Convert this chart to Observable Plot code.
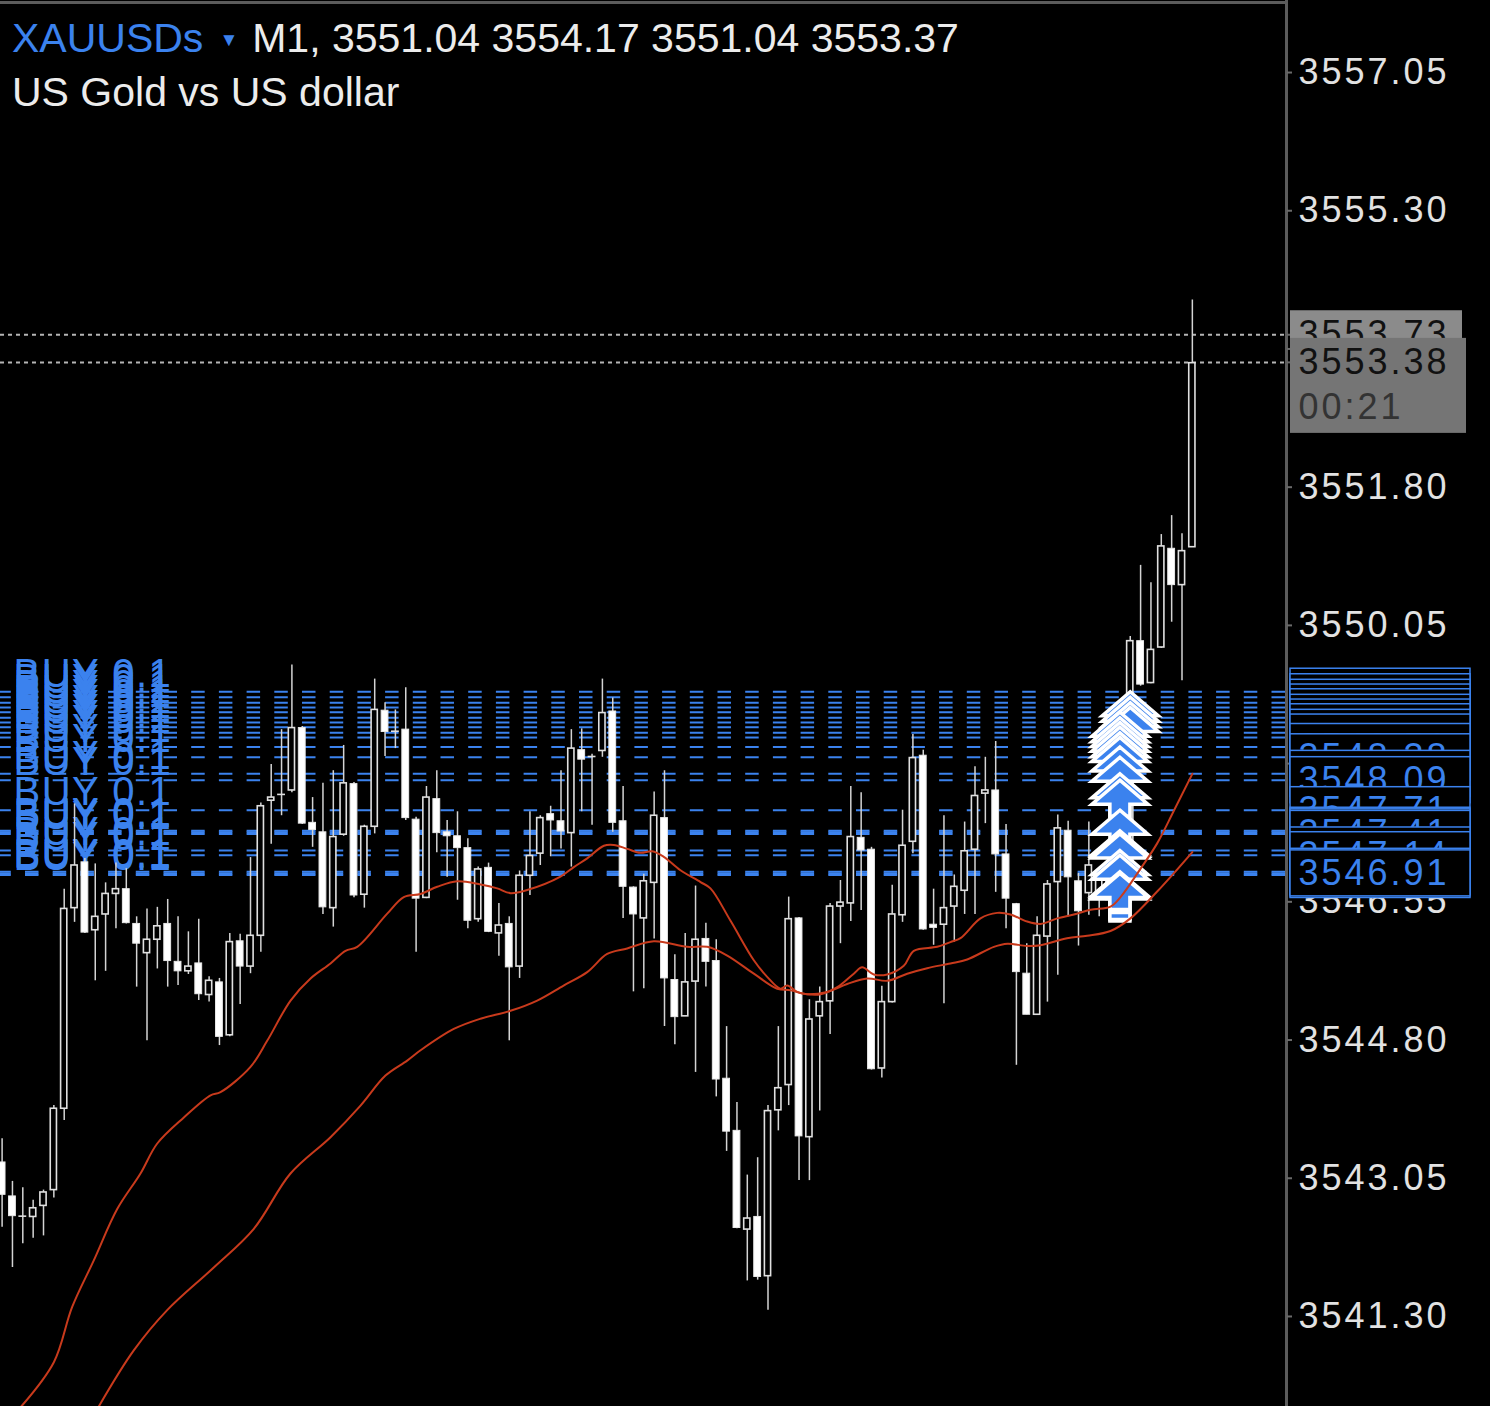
<!DOCTYPE html>
<html><head><meta charset="utf-8">
<script src="https://cdn.jsdelivr.net/npm/d3@7"></script>
<script src="https://cdn.jsdelivr.net/npm/@observablehq/plot@0.6"></script>
<style>
html,body{margin:0;padding:0;background:#000;overflow:hidden;}
#wrap{position:relative;width:1490px;height:1406px;background:#000;}
#title{position:absolute;left:12px;top:12px;font-family:"Liberation Sans",Arial,sans-serif;font-size:41px;line-height:52px;color:#ececec;white-space:nowrap;}
#title .sym{color:#3b82ee;}
#title .tri{color:#3b82ee;font-size:19px;display:inline-block;margin:0 14px 0 16px;vertical-align:6px;}
g[aria-description="price-axis"] text, g[aria-description="order-label"] text, g[aria-description="price-box"] text{letter-spacing:3px;}
g[aria-description="buy-text"] text{letter-spacing:1.5px;}
</style></head><body>
<div id="wrap"><div id="chart"></div><div id="title"></div></div>
<script>
// ---- chart data ----
const symbolName = "XAUUSDs";
const timeframe = "M1";
const description = "US Gold vs US dollar";

const open = [3543.25,3542.82,3542.57,3542.56,3542.70,3542.90,3543.93,3546.47,3547.05,3546.19,
3546.39,3546.65,3546.71,3546.27,3545.90,3546.07,3546.27,3545.79,3545.67,3545.77,
3545.37,3545.53,3544.86,3546.05,3545.73,3546.12,3547.83,3547.91,3547.96,3548.75,
3547.55,3547.43,3546.47,3547.40,3548.04,3546.64,3547.50,3548.97,3548.71,3548.73,
3547.59,3546.60,3547.85,3547.43,3547.38,3547.23,3546.33,3546.98,3546.15,3546.27,
3545.73,3546.88,3547.16,3547.66,3547.57,3547.42,3548.47,3548.39,3548.46,3548.96,
3547.57,3546.73,3546.34,3546.79,3547.61,3545.56,3545.10,3545.54,3546.08,3545.80,
3544.31,3543.65,3542.40,3542.56,3541.81,3543.91,3544.23,3546.34,3543.57,3545.10,
3545.29,3546.49,3546.53,3547.36,3547.21,3544.44,3545.28,3546.38,3547.31,3548.40,
3546.26,3546.26,3546.49,3546.69,3547.21,3547.92,3547.96,3547.15,3546.52,3545.64,
3545.12,3546.11,3546.80,3547.45,3546.81,3546.66,3546.63,3546.82,3546.57,3546.72,
3549.85,3549.32,3549.77,3551.02,3550.56,3551.04];
const high = [3543.55,3543.01,3542.93,3542.77,3542.90,3543.97,3546.71,3547.79,3547.10,3547.03,
3546.79,3547.04,3546.97,3546.36,3546.46,3546.48,3546.58,3546.36,3546.17,3546.33,
3545.60,3545.58,3546.15,3546.14,3547.11,3547.80,3548.29,3548.73,3549.55,3548.77,
3547.87,3548.05,3548.21,3548.53,3548.06,3547.52,3549.37,3549.07,3548.98,3549.26,
3547.62,3548.01,3548.21,3547.58,3547.69,3547.35,3546.99,3547.04,3546.53,3546.36,
3546.94,3547.69,3547.64,3547.76,3548.21,3548.73,3548.74,3548.42,3549.37,3549.13,
3548.01,3546.74,3546.90,3547.94,3548.21,3545.88,3546.15,3546.75,3546.28,3546.07,
3544.97,3544.01,3543.09,3543.31,3543.97,3544.97,3546.61,3546.35,3545.31,3545.47,
3546.53,3546.82,3548.01,3547.93,3547.24,3545.48,3546.76,3547.71,3548.67,3548.47,
3546.71,3547.64,3546.89,3547.56,3548.26,3548.38,3548.58,3547.53,3546.53,3546.02,
3546.36,3546.82,3547.65,3547.57,3546.91,3547.56,3546.95,3546.92,3546.82,3549.91,
3550.81,3550.59,3551.20,3551.44,3551.21,3554.17];
const low = [3542.43,3541.92,3542.22,3542.29,3542.32,3542.80,3543.78,3546.29,3546.15,3545.55,
3545.67,3546.21,3546.27,3545.47,3544.79,3545.70,3545.47,3545.49,3545.63,3545.30,
3545.28,3544.73,3544.84,3545.25,3545.64,3545.91,3547.28,3547.64,3547.93,3547.53,
3547.24,3546.39,3546.23,3547.38,3546.60,3546.47,3547.41,3548.39,3548.49,3547.58,
3545.91,3546.59,3547.17,3546.86,3546.57,3546.21,3546.29,3546.16,3545.86,3544.79,
3545.58,3546.63,3547.01,3547.12,3547.22,3546.99,3547.69,3547.52,3548.38,3547.43,
3546.34,3545.41,3545.45,3546.08,3544.97,3544.74,3545.10,3544.39,3545.47,3544.08,
3543.39,3542.41,3541.75,3541.76,3541.38,3543.65,3543.97,3543.02,3543.02,3543.90,
3544.87,3546.02,3546.30,3546.44,3544.42,3544.32,3545.27,3546.29,3547.16,3546.19,
3546.00,3545.26,3546.04,3546.39,3546.39,3547.54,3546.67,3546.21,3544.48,3545.12,
3545.11,3545.28,3545.62,3546.36,3545.99,3546.38,3546.36,3546.41,3546.44,3546.50,
3549.28,3549.31,3549.76,3550.09,3549.35,3551.04];
const close = [3542.84,3542.57,3542.57,3542.67,3542.87,3543.93,3546.46,3547.01,3546.16,3546.36,
3546.65,3546.71,3546.28,3546.02,3546.07,3546.24,3545.80,3545.67,3545.73,3545.38,
3545.55,3544.84,3546.04,3545.73,3546.12,3547.76,3547.87,3547.91,3548.75,3547.54,
3547.46,3546.48,3547.37,3548.05,3546.63,3547.50,3548.98,3548.70,3548.71,3547.61,
3546.59,3547.87,3547.42,3547.38,3547.23,3546.31,3546.96,3546.17,3546.25,3545.72,
3546.88,3547.13,3547.61,3547.58,3547.44,3548.49,3548.35,3548.39,3548.94,3547.55,
3546.74,3546.39,3546.81,3547.64,3545.58,3545.09,3545.53,3546.07,3545.79,3544.30,
3543.64,3542.42,3542.54,3541.80,3543.90,3544.19,3546.33,3543.58,3545.06,3545.28,
3546.49,3546.54,3547.37,3547.20,3544.43,3545.28,3546.39,3547.26,3548.37,3546.20,
3546.22,3546.47,3546.74,3547.19,3547.89,3547.96,3547.15,3546.59,3545.66,3545.12,
3546.12,3546.77,3547.48,3546.86,3546.43,3547.01,3546.82,3546.57,3546.72,3549.85,
3549.30,3549.74,3551.05,3550.56,3550.99,3553.37];

// moving averages (bar index, price)
const maFastBar = [1.85,5.0,6.77,8.86,11.12,13.37,14.99,17.56,20.14,21.1,24.0,25.61,27.87,29.8,31.73,33.18,34.31,37.21,38.81,40.43,42.04,43.97,46.22,47.84,49.12,50.73,53.95,55.24,56.53,58.14,59.1,60.4,61.68,62.81,63.93,65.54,67.48,68.44,70.38,72.63,73.92,75.21,75.86,76.82,77.79,79.07,80.69,82.29,83.1,84.22,85.52,87.12,88.09,90.35,91.63,92.6,94.53,96.14,97.43,99.04,100.33,101.94,103.55,105.17,107.09,108.06,110.0,111.6,113.2,115.0];
const maFastValue = [3540.16,3540.72,3541.42,3542.01,3542.66,3543.11,3543.49,3543.82,3544.10,3544.14,3544.46,3544.79,3545.30,3545.58,3545.77,3545.93,3545.98,3546.40,3546.61,3546.65,3546.74,3546.81,3546.77,3546.72,3546.66,3546.70,3546.87,3546.99,3547.10,3547.26,3547.27,3547.22,3547.17,3547.19,3547.12,3546.95,3546.80,3546.72,3546.31,3545.81,3545.60,3545.45,3545.49,3545.41,3545.38,3545.38,3545.47,3545.64,3545.72,3545.63,3545.63,3545.74,3545.93,3545.98,3546.04,3546.09,3546.34,3546.41,3546.39,3546.30,3546.27,3546.34,3546.39,3546.45,3546.49,3546.61,3546.97,3547.29,3547.70,3548.17];
const maSlowBar = [9.34,12.72,15.95,20.45,24.32,27.86,31.73,34.63,37.04,39.14,40.43,43.64,46.22,49.12,51.7,54.25,56.53,58.46,60.4,62.97,66.19,68.13,70.06,72.63,74.89,76.17,77.79,79.72,81.65,83.58,85.52,87.45,89.38,91.63,93.25,95.82,97.14,99.04,100.33,102.89,104.84,107.09,109.02,111.6,113.2,115.0];
const maSlowValue = [3540.16,3540.87,3541.38,3541.92,3542.41,3543.11,3543.57,3543.97,3544.35,3544.54,3544.67,3544.94,3545.07,3545.17,3545.30,3545.49,3545.66,3545.89,3545.96,3546.05,3545.98,3545.98,3545.87,3545.64,3545.45,3545.43,3545.38,3545.41,3545.51,3545.58,3545.55,3545.64,3545.71,3545.77,3545.82,3545.98,3546.02,3545.99,3546.00,3546.09,3546.12,3546.18,3546.34,3546.68,3546.91,3547.18];

// open buy orders (in the order they are drawn)
const orderPrice = [3549.21,3549.14,3549.07,3549.01,3548.95,3548.88,3548.82,3548.76,3548.69,3548.63,3548.51,3548.38,3548.17,3548.09,3547.71,3547.45,3547.43,3547.41,3547.20,3547.14,3546.93,3546.89,3546.91];
const orderBar = [109,109,109,109,108,108,108,108,108,108,108,108,108,108,108,108,108,108,108,108,108,108,108];
const orderLabel = "BUY 0.1";

const askPrice = 3553.73;
const bidPrice = 3553.38;
const barTimer = "00:21";
const priceTicks = [3557.05,3555.30,3553.55,3551.80,3550.05,3548.30,3546.55,3544.80,3543.05,3541.30];

// ---- drawing ----
const BLUE = "#3b82ee";
const RED = "#c83a1c";
const XMIN = -0.155, XMAX = 124.0;
const YMIN = 3540.16, YMAX = 3557.962;

const bars = d3.range(open.length);
const bullBars = bars.filter(i => close[i] - open[i] > 0.015);
const bearBars = bars.filter(i => open[i] - close[i] > 0.015);
const dojiBars = bars.filter(i => Math.abs(close[i] - open[i]) <= 0.015);
const orders = d3.range(orderPrice.length);
const fast = maFastBar.map((b, k) => ({b, v: maFastValue[k]}));
const slow = maSlowBar.map((b, k) => ({b, v: maSlowValue[k]}));

// MT5-style buy arrow: tip at the order price
const arrowSymbol = {
  draw(ctx) {
    ctx.moveTo(0, 0);
    ctx.lineTo(28, 24);
    ctx.lineTo(10, 24);
    ctx.lineTo(10, 36);
    ctx.lineTo(-10, 36);
    ctx.lineTo(-10, 24);
    ctx.lineTo(-28, 24);
    ctx.closePath();
    ctx.moveTo(10, 39);
    ctx.lineTo(10, 46);
    ctx.lineTo(-10, 46);
    ctx.lineTo(-10, 39);
    ctx.closePath();
  }
};

const boxMarks = orders.flatMap(k => [
  Plot.rect([orderPrice[k]], {x1: () => XMAX, x2: () => XMAX, y1: d => d, y2: d => d,
    insetLeft: 5, insetRight: -185, insetTop: -23, insetBottom: -23,
    fill: "#000", stroke: BLUE, strokeWidth: 1.5}),
  Plot.text([orderPrice[k]], {x: () => XMAX, y: d => d, dx: 13, text: d => d.toFixed(2),
    textAnchor: "start", fill: BLUE, fontSize: 36, ariaDescription: "order-label"})
]);

const chart = Plot.plot({
  width: 1490, height: 1406,
  marginLeft: 0, marginRight: 205, marginTop: 0, marginBottom: 0,
  x: {domain: [XMIN, XMAX], axis: null},
  y: {domain: [YMIN, YMAX], axis: null},
  style: {background: "#000", fontFamily: "'Liberation Sans', Arial, sans-serif", overflow: "hidden"},
  marks: [
    // ask / bid dotted lines
    Plot.ruleY([askPrice, bidPrice], {stroke: "#b5b5b5", strokeWidth: 2, strokeDasharray: "4,4"}),
    // order lines
    Plot.ruleY(orderPrice, {stroke: BLUE, strokeWidth: 2, strokeDasharray: "13.5,14.2", strokeDashoffset: 2.7}),
    // order texts
    Plot.text(orderPrice, {y: d => d, frameAnchor: "left", dx: 13, dy: -5, text: () => orderLabel,
      textAnchor: "start", lineAnchor: "bottom", fill: BLUE, fontSize: 40, ariaDescription: "buy-text"}),
    // candles
    Plot.ruleX(bars, {x: i => i, y1: i => low[i], y2: i => high[i], stroke: "#d4d4d4", strokeWidth: 1.5}),
    Plot.rect(bearBars, {x1: i => i - 0.33, x2: i => i + 0.33, y1: i => open[i], y2: i => close[i],
      fill: "#ffffff", stroke: "#e8e8e8", strokeWidth: 1}),
    Plot.rect(bullBars, {x1: i => i - 0.3, x2: i => i + 0.3, y1: i => open[i], y2: i => close[i],
      fill: "#000", stroke: "#e0e0e0", strokeWidth: 1.6}),
    Plot.ruleY(dojiBars, {y: i => close[i], x1: i => i - 0.38, x2: i => i + 0.38, stroke: "#e0e0e0", strokeWidth: 1.6}),
    // buy arrows
    Plot.dot(orders, {x: k => orderBar[k], y: k => orderPrice[k], symbol: arrowSymbol,
      fill: BLUE, stroke: "#ffffff", strokeWidth: 3.5, strokeLinejoin: "miter"}),
    // moving averages
    Plot.line(slow, {x: "b", y: "v", stroke: RED, strokeWidth: 2, curve: "catmull-rom"}),
    Plot.line(fast, {x: "b", y: "v", stroke: RED, strokeWidth: 2, curve: "catmull-rom"}),
    // frame lines
    Plot.ruleX([XMAX], {stroke: "#5c5c5c", strokeWidth: 3, dx: 1}),
    Plot.ruleY([YMAX], {stroke: "#5c5c5c", strokeWidth: 3, dy: 2}),
    // price axis
    Plot.ruleY(priceTicks.concat([askPrice, bidPrice]), {x1: () => XMAX, x2: () => XMAX, insetLeft: 2, insetRight: -7,
      stroke: "#6a6a6a", strokeWidth: 2}),
    Plot.text(priceTicks, {x: () => XMAX, y: d => d, dx: 13, text: d => d.toFixed(2), textAnchor: "start",
      fill: "#e2e2e2", fontSize: 36, ariaDescription: "price-axis"}),
    // order labels on the axis
    ...boxMarks,
    // ask / bid boxes
    Plot.rect([askPrice], {x1: () => XMAX, x2: () => XMAX, y1: d => d, y2: d => d,
      insetLeft: 5, insetRight: -177, insetTop: -24, insetBottom: -24, fill: "#8b8b8b"}),
    Plot.text([askPrice], {x: () => XMAX, y: d => d, dx: 13, text: d => d.toFixed(2), textAnchor: "start",
      fill: "#111", fontSize: 36, ariaDescription: "price-box"}),
    Plot.rect([bidPrice], {x1: () => XMAX, x2: () => XMAX, y1: d => d, y2: d => d,
      insetLeft: 5, insetRight: -181, insetTop: -24, insetBottom: -71, fill: "#757575"}),
    Plot.text([bidPrice], {x: () => XMAX, y: d => d, dx: 13, text: d => d.toFixed(2), textAnchor: "start",
      fill: "#111", fontSize: 36, ariaDescription: "price-box"}),
    Plot.text([bidPrice], {x: () => XMAX, y: d => d, dx: 13, dy: 45, text: () => barTimer, textAnchor: "start",
      fill: "#333", fontSize: 36, ariaDescription: "price-box"})
  ]
});
document.getElementById("chart").appendChild(chart);

// title (last bar OHLC)
const last = open.length - 1;
const fmt = v => v.toFixed(2);
const title = document.getElementById("title");
title.innerHTML = `<span class="sym">${symbolName}</span><span class="tri">&#9660;</span>${timeframe}, ${fmt(open[last])} ${fmt(high[last])} ${fmt(low[last])} ${fmt(close[last])}<br>${description}`;
</script>
</body></html>
